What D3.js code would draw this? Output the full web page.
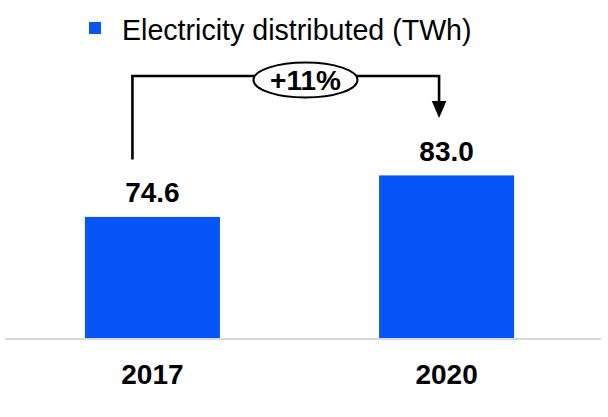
<!DOCTYPE html>
<html>
<head>
<meta charset="utf-8">
<script src="https://cdn.jsdelivr.net/npm/d3@7"></script>
<style>
  html, body { margin: 0; padding: 0; background: #fff; }
  svg { display: block; font-family: "Liberation Sans", Arial, sans-serif; }
</style>
</head>
<body>
<svg id="chart" width="608" height="417"></svg>
<script>
// Data
const categories = ["2017", "2020"];
const values = [74.6, 83.0];
const seriesName = "Electricity distributed (TWh)";
const changeLabel = "+11%";

const barColor = "#0855F7";
const width = 608, height = 417;
const baseY = 338.5;

const svg = d3.select("#chart");

const x = d3.scaleBand()
  .domain(categories)
  .range([5.5, 593.5])
  .paddingInner(0.541)
  .paddingOuter(0.27);

// value axis starts at 50 TWh
const y = d3.scaleLinear()
  .domain([50, 83])
  .range([baseY, 175.4]);

// Legend
const legend = svg.append("g");
legend.append("rect")
  .attr("x", 89).attr("y", 22).attr("width", 12).attr("height", 12)
  .attr("fill", barColor);
legend.append("text")
  .attr("x", 122).attr("y", 39.5)
  .attr("font-size", 28.6)
  .attr("fill", "#000")
  .text(seriesName);

// Bars
svg.append("g").selectAll("rect")
  .data(values)
  .join("rect")
  .attr("x", (d, i) => x(categories[i]))
  .attr("width", x.bandwidth())
  .attr("y", d => y(d))
  .attr("height", d => baseY - y(d))
  .attr("fill", barColor);

// Baseline
svg.append("line")
  .attr("x1", 5).attr("x2", 601)
  .attr("y1", baseY + 0.5).attr("y2", baseY + 0.5)
  .attr("stroke", "#d9d9d9").attr("stroke-width", 2);

// Value labels
const labelGap = 14.5;
svg.append("g").selectAll("text")
  .data(values)
  .join("text")
  .attr("x", (d, i) => x(categories[i]) + x.bandwidth() / 2)
  .attr("y", d => y(d) - labelGap)
  .attr("text-anchor", "middle")
  .attr("font-size", 28)
  .attr("font-weight", "bold")
  .text(d => d.toFixed(1));

// Category labels
svg.append("g").selectAll("text")
  .data(categories)
  .join("text")
  .attr("x", d => x(d) + x.bandwidth() / 2)
  .attr("y", 384)
  .attr("text-anchor", "middle")
  .attr("font-size", 28)
  .attr("font-weight", "bold")
  .text(d => d);

// Growth connector with arrow
const cx0 = x(categories[0]) + x.bandwidth() / 2 - 20;
const cx1 = x(categories[1]) + x.bandwidth() / 2 - 7.5;
const topY = 76;
const endGap = labelGap + 20 + 23;
const leftEnd = y(values[0]) - endGap;
const tipY = y(values[1]) - endGap;
const headH = 17, headW = 14.6;

const conn = svg.append("g");
conn.append("path")
  .attr("d", `M${cx0},${leftEnd} V${topY} H${cx1} V${tipY - headH + 1}`)
  .attr("fill", "none")
  .attr("stroke", "#000")
  .attr("stroke-width", 2.6);
conn.append("path")
  .attr("d", `M${cx1 - headW / 2},${tipY - headH} L${cx1 + headW / 2},${tipY - headH} L${cx1},${tipY} Z`)
  .attr("fill", "#000");

const ex = (x(categories[0]) + x(categories[1])) / 2 + x.bandwidth() / 2 + 6;
conn.append("ellipse")
  .attr("cx", ex).attr("cy", 80)
  .attr("rx", 52).attr("ry", 17.5)
  .attr("fill", "#fff")
  .attr("stroke", "#000")
  .attr("stroke-width", 2);
conn.append("text")
  .attr("x", ex).attr("y", 90)
  .attr("text-anchor", "middle")
  .attr("font-size", 28)
  .attr("font-weight", "bold")
  .text(changeLabel);
</script>
</body>
</html>
